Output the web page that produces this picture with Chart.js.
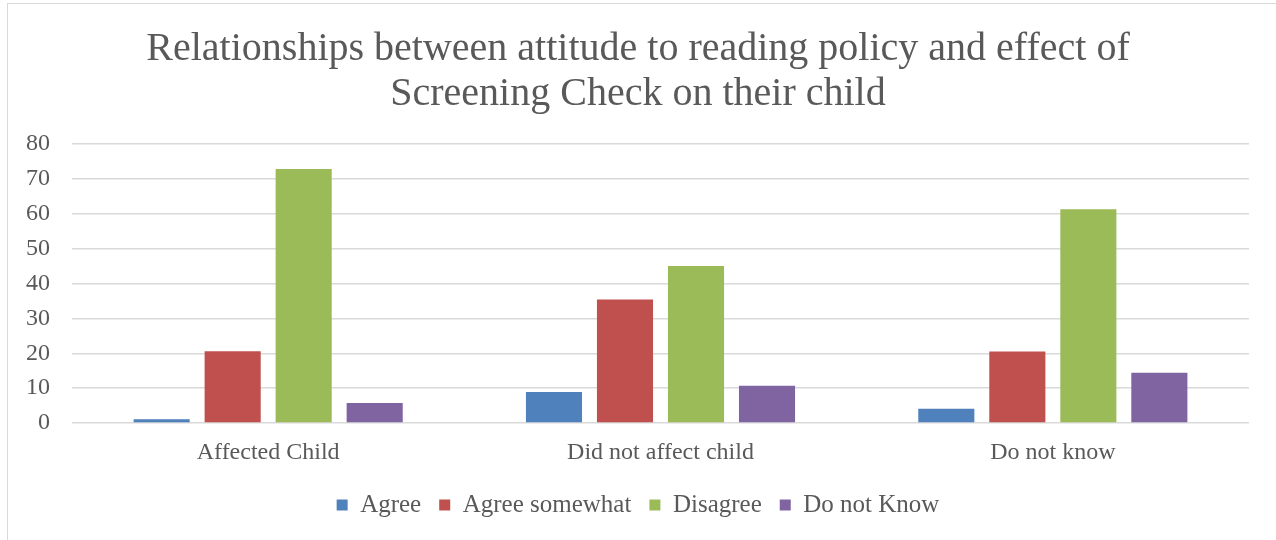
<!DOCTYPE html>
<html>
<head>
<meta charset="utf-8">
<script src="https://cdn.jsdelivr.net/npm/chart.js@4"></script>
<style>
  html, body { margin: 0; padding: 0; background: #fff; overflow: hidden; }
  #wrap { position: relative; width: 1276px; height: 540px; }
  #frame { position: absolute; left: 7px; top: 3px; width: 1300px; height: 600px; border: 1px solid #d9d9d9; box-sizing: border-box; pointer-events: none; }
  canvas { position: absolute; left: 0; top: 0; }
</style>
</head>
<body>
<div id="wrap">
  <div id="frame"></div>
  <canvas id="chart" width="1276" height="540"></canvas>
</div>
<script>
  const CATEGORIES = ['Affected Child', 'Did not affect child', 'Do not know'];
  const SERIES_NAMES = ['Agree', 'Agree somewhat', 'Disagree', 'Do not Know'];
  const AGREE = [1.1, 8.9, 4.1];
  const AGREE_SOMEWHAT = [20.6, 35.4, 20.5];
  const DISAGREE = [72.8, 45.0, 61.3];
  const DO_NOT_KNOW = [5.7, 10.7, 14.4];
  const Y_TICKS = [0, 10, 20, 30, 40, 50, 60, 70, 80];
  const COLORS = ['#4f81bd', '#c0504d', '#9bbb59', '#8064a2'];

  const FONT = "'Liberation Serif', 'DejaVu Serif', serif";
  const TEXT = '#595959';

  const values = [AGREE, AGREE_SOMEWHAT, DISAGREE, DO_NOT_KNOW];

  new Chart(document.getElementById('chart'), {
    type: 'bar',
    data: {
      labels: CATEGORIES,
      datasets: SERIES_NAMES.map(function (name, i) {
        return {
          label: name,
          data: values[i],
          backgroundColor: COLORS[i],
          categoryPercentage: 0.724,
          barPercentage: 0.79,
        };
      }),
    },
    options: {
      responsive: false,
      animation: false,
      layout: { padding: { left: 0, right: 0, top: 0, bottom: 12.5 } },
      plugins: {
        title: {
          display: true,
          text: ['Relationships between attitude to reading policy and effect of', 'Screening Check on their child'],
          color: TEXT,
          font: { family: FONT, size: 40, weight: 'normal', lineHeight: 1.12 },
          padding: { top: 27, bottom: 27.4 },
        },
        legend: {
          position: 'bottom',
          labels: {
            color: TEXT,
            font: { family: FONT, size: 25 },
            boxWidth: 11,
            boxHeight: 11,
            padding: 18,
          },
        },
        tooltip: { enabled: false },
      },
      scales: {
        x: {
          grid: { display: false, drawTicks: false },
          border: { display: false },
          ticks: { color: TEXT, font: { family: FONT, size: 24 }, padding: 15.6 },
          afterFit: function (scale) { scale.height = 51.5; },
        },
        y: {
          min: 0,
          max: 80,
          afterBuildTicks: function (scale) { scale.ticks = Y_TICKS.map(function (v) { return { value: v }; }); },
          afterFit: function (scale) { scale.width = 72; },
          grid: { color: '#d9d9d9', lineWidth: 1.5, drawTicks: false },
          border: { display: false },
          ticks: { color: TEXT, font: { family: FONT, size: 24 }, padding: 22 },
        },
        yRight: {
          position: 'right',
          grid: { display: false, drawTicks: false },
          border: { display: false },
          ticks: { display: false },
          afterFit: function (scale) { scale.width = 27; },
        },
      },
    },
  });
</script>
</body>
</html>
